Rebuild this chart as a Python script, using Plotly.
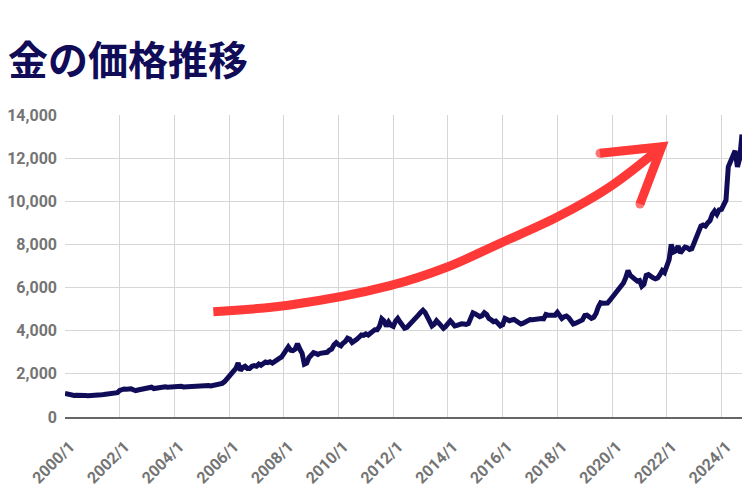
import plotly.graph_objects as go
import pandas as pd

# 金の価格 (円/g) 月次 2000/1 - 2024/10
price_2000 = [1090, 1060, 1020, 1010, 1000, 1010, 1020, 1010, 1000, 1000, 990, 990]
price_2001 = [990, 980, 980, 1010, 1030, 1040, 1060, 1050, 1080, 1090, 1100, 1130]
price_2002 = [1230, 1280, 1300, 1290, 1300, 1310, 1260, 1220, 1250, 1270, 1280, 1300]
price_2003 = [1350, 1400, 1380, 1320, 1340, 1360, 1330, 1370, 1400, 1380, 1390, 1410]
price_2004 = [1430, 1420, 1400, 1420, 1390, 1400, 1410, 1400, 1420, 1440, 1450, 1460]
price_2005 = [1480, 1470, 1490, 1460, 1440, 1470, 1500, 1480, 1510, 1560, 1640, 1760]
price_2006 = [1900, 2050, 2100, 2250, 2500, 2150, 2300, 2350, 2250, 2250, 2350, 2380]
price_2007 = [2350, 2450, 2400, 2450, 2550, 2520, 2560, 2500, 2600, 2650, 2720, 2780]
price_2008 = [2950, 3150, 3250, 3100, 3080, 3150, 3400, 3150, 2950, 2450, 2500, 2750]
price_2009 = [2850, 2980, 2950, 2900, 2950, 2980, 2950, 3000, 3100, 3150, 3350, 3450]
price_2010 = [3350, 3300, 3420, 3500, 3650, 3600, 3450, 3500, 3600, 3700, 3800, 3780]
price_2011 = [3850, 3800, 3900, 4000, 4050, 4050, 4200, 4550, 4450, 4200, 4400, 4250]
price_2012 = [4200, 4450, 4570, 4400, 4250, 4110, 4150, 4250, 4400, 4490, 4600, 4720]
price_2013 = [4850, 4950, 4850, 4650, 4450, 4220, 4300, 4460, 4350, 4200, 4110, 4200]
price_2014 = [4380, 4460, 4350, 4220, 4250, 4300, 4320, 4310, 4290, 4330, 4600, 4830]
price_2015 = [4780, 4700, 4650, 4700, 4830, 4750, 4570, 4500, 4420, 4450, 4350, 4220]
price_2016 = [4280, 4570, 4520, 4460, 4500, 4520, 4450, 4400, 4310, 4350, 4400, 4480]
price_2017 = [4520, 4510, 4530, 4520, 4530, 4560, 4550, 4750, 4720, 4700, 4720, 4720]
price_2018 = [4850, 4700, 4570, 4650, 4680, 4600, 4450, 4310, 4350, 4420, 4460, 4500]
price_2019 = [4700, 4720, 4650, 4570, 4620, 4800, 5100, 5300, 5270, 5260, 5280, 5400]
price_2020 = [5550, 5700, 5800, 6000, 6050, 6210, 6450, 6790, 6560, 6480, 6350, 6300]
price_2021 = [6330, 6060, 6150, 6560, 6600, 6500, 6450, 6410, 6450, 6600, 6790, 6700]
price_2022 = [6940, 7300, 8000, 7650, 7700, 7920, 7610, 7750, 7880, 7850, 7770, 7800]
price_2023 = [8080, 8400, 8700, 8850, 8900, 8850, 9000, 9100, 9400, 9550, 9400, 9600]
price_2024 = [9630, 9800, 10050, 11600, 11900, 12050, 12340, 11600, 12000, 13100]

prices = (price_2000 + price_2001 + price_2002 + price_2003 + price_2004 + price_2005
          + price_2006 + price_2007 + price_2008 + price_2009 + price_2010 + price_2011
          + price_2012 + price_2013 + price_2014 + price_2015 + price_2016 + price_2017
          + price_2018 + price_2019 + price_2020 + price_2021 + price_2022 + price_2023
          + price_2024)
months = pd.date_range("2000-01-01", periods=len(prices), freq="MS")

tick_years = [2000, 2002, 2004, 2006, 2008, 2010, 2012, 2014, 2016, 2018, 2020, 2022, 2024]
tick_vals = [f"{y}-01-01" for y in tick_years]
tick_text = [f"{y}/1" for y in tick_years]

# 赤い矢印 (飾り, プロット領域内の相対位置)
arrow_x = [0.2191, 0.3323, 0.4801, 0.5638, 0.6425, 0.7263, 0.8050, 0.8814]
arrow_y = [0.3487, 0.3709, 0.4348, 0.4957, 0.5752, 0.6613, 0.7626, 0.8950]
head_x = [0.7903, 0.8814, 0.8493]
head_y = [0.8732, 0.8950, 0.7053]

navy = "#100c58"
red = "#ff3838"

fig = go.Figure()
fig.add_trace(go.Scatter(x=months, y=prices, mode="lines",
                         line=dict(color=navy, width=5), hoverinfo="x+y"))
fig.add_trace(go.Scatter(x=arrow_x, y=arrow_y, mode="lines", xaxis="x2", yaxis="y2",
                         line=dict(color=red, width=9, shape="spline", smoothing=1.0),
                         hoverinfo="skip"))
fig.add_trace(go.Scatter(x=head_x, y=head_y, mode="lines+markers", xaxis="x2", yaxis="y2",
                         line=dict(color=red, width=9),
                         marker=dict(color=red, size=[9, 0, 9], line=dict(width=0)),
                         hoverinfo="skip"))

tick_color = "#747474"

fig.update_layout(
    width=750, height=500,
    showlegend=False,
    plot_bgcolor="white", paper_bgcolor="white",
    margin=dict(l=65, r=8, t=115, b=83),
    title=dict(text="<b>金の価格推移</b>", x=8 / 750, xanchor="left", xref="container",
               y=1 - 61 / 500, yanchor="middle", yref="container",
               font=dict(family="Noto Sans CJK JP", size=40, color=navy)),
    xaxis=dict(range=[months[0], months[-1]], tickvals=tick_vals, ticktext=tick_text,
               tickangle=-45, showgrid=True, gridcolor="#d6d6d6", gridwidth=1,
               showline=True, linecolor="#666666", linewidth=2, automargin=False,
               ticks="", ticklabelstandoff=12, ticklabelshift=5,
               tickfont=dict(family="Roboto, Arial, sans-serif", size=16,
                             color=tick_color, weight="bold"),
               zeroline=False),
    yaxis=dict(range=[0, 14000], dtick=2000, tickformat=",", showgrid=True,
               gridcolor="#d6d6d6", gridwidth=1, zeroline=False, showline=False,
               automargin=False, ticks="", ticklabelstandoff=7,
               tickfont=dict(family="Roboto, Arial, sans-serif", size=16,
                             color=tick_color, weight="bold")),
    xaxis2=dict(overlaying="x", range=[0, 1], visible=False),
    yaxis2=dict(overlaying="y", range=[0, 1], visible=False),
)

fig.write_html("out.html", config={"displayModeBar": False},
               post_script="document.body.style.margin='0';")
